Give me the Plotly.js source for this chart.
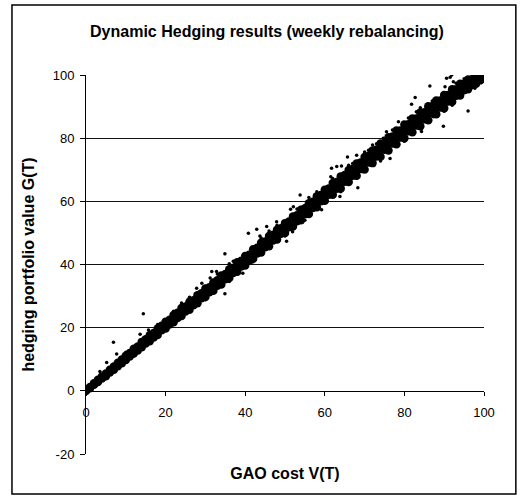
<!DOCTYPE html>
<html>
<head>
<meta charset="utf-8">
<script src="https://cdn.plot.ly/plotly-3.0.1.min.js"></script>
<style>html,body{margin:0;padding:0;background:#fff;}#chart{width:521px;height:499px;}</style>
</head>
<body>
<div id="chart"></div>
<script>
// ---- Data ----
// Dense central band (GAO cost V(T) vs hedging portfolio value G(T))
const bandCentreX = [
  0,1,2,3,4,5,6,7,8,9,
  10,11,12,13,14,15,16,17,18,19,
  20,21,22,23,24,25,26,27,28,29,
  30,31,32,33,34,35,36,37,38,39,
  40,41,42,43,44,45,46,47,48,49,
  50,51,52,53,54,55,56,57,58,59,
  60,61,62,63,64,65,66,67,68,69,
  70,71,72,73,74,75,76,77,78,79,
  80,81,82,83,84,85,86,87,88,89,
  90,91,92,93,94,95,96,97,98,99,
  100];
const bandCentreY = [
  0,1.0,2.1,3.2,4.2,5.1,6.3,7.3,8.4,9.4,
  10.4,11.5,12.5,13.4,14.6,15.7,16.6,17.6,18.7,19.9,
  20.8,21.8,22.9,23.9,24.8,25.9,27.0,27.9,29.0,30.1,
  31.0,32.0,33.1,34.1,35.0,36.1,37.2,38.1,39.2,40.3,
  41.2,42.2,43.3,44.4,45.3,46.4,47.5,48.5,49.5,50.6,
  51.6,52.7,53.7,54.6,55.7,56.8,57.8,58.9,59.9,61.0,
  62.0,63.1,64.0,65.0,66.1,67.2,68.1,69.1,70.2,71.2,
  72.2,73.3,74.2,75.2,76.3,77.3,78.2,79.3,80.3,81.2,
  82.2,83.2,84.1,85.0,86.0,87.0,87.9,88.9,89.8,90.7,
  91.6,92.6,93.5,94.4,95.3,96.2,97.0,97.8,98.5,99.2,
  99.7];
const bandUpperX = [0,2,4,6,8,10,12,14,16,18,20,22,24,26,28,30,32,34,36,38,40,42,44,46,48,50,
  52,54,56,58,60,62,64,66,68,70,72,74,76,78,80,82,84,86,88,90,92,94,96,98,100];
const bandUpperY = [0.2,2.4,4.5,6.7,8.9,11.1,13.3,15.5,17.6,19.7,21.9,24.0,26.2,28.2,30.3,32.4,34.3,36.5,38.5,40.7,
  42.7,44.8,46.9,49.0,51.0,53.1,55.2,57.3,59.4,61.6,63.7,65.8,67.9,69.9,72.0,74.0,76.1,78.3,80.3,82.4,
  84.3,86.2,88.1,90.1,91.9,93.7,95.5,97.2,98.6,99.7,100.1];
const bandLowerX = [0,2,4,6,8,10,12,14,16,18,20,22,24,26,28,30,32,34,36,38,40,42,44,46,48,50,
  52,54,56,58,60,62,64,66,68,70,72,74,76,78,80,82,84,86,88,90,92,94,96,98,100];
const bandLowerY = [0,1.9,3.9,5.8,7.8,9.8,11.8,13.8,15.7,17.7,19.7,21.7,23.7,25.7,27.7,29.7,31.7,33.7,35.7,37.7,
  39.7,41.8,43.8,45.8,47.9,50.0,52.0,54.0,56.0,58.1,60.2,62.1,64.1,66.1,68.1,70.1,72.1,74.1,76.1,78.1,
  80.0,81.9,83.8,85.7,87.6,89.5,91.5,93.5,95.5,97.2,98.8];
const bandMidX = [1,3,5,7,9,11,13,15,17,19,21,23,25,27,29,31,33,35,37,39,41,43,45,47,49,
  51,53,55,57,59,61,63,65,67,69,71,73,75,77,79,81,83,85,87,89,91,93,95,97,99];
const bandMidUpperY = [1.2,3.5,5.5,7.7,9.9,12.0,14.0,16.3,18.3,20.6,
  22.5,24.7,26.7,28.7,30.9,32.8,35.0,37.0,39.0,41.2,
  43.1,45.3,47.3,49.4,51.5,53.6,55.6,57.8,59.9,62.0,
  64.1,66.1,68.3,70.2,72.3,74.4,76.4,78.5,80.5,82.4,
  84.4,86.2,88.2,90.1,91.9,93.7,95.5,97.2,98.7,99.9];
const bandMidLowerY = [0.8,2.8,4.6,6.7,8.7,10.9,12.8,15.0,16.9,19.2,
  21.0,23.1,25.1,27.1,29.3,31.2,33.3,35.3,37.3,39.4,
  41.3,43.5,45.5,47.6,49.7,51.8,53.7,55.9,57.9,60.0,
  62.1,64.0,66.2,68.1,70.2,72.3,74.2,76.3,78.3,80.2,
  82.2,84.0,86.0,87.9,89.7,91.6,93.4,95.2,96.8,98.3];
// Scattered points away from the band
const strayX = [3.5,5.2,6.9,7.7,13.6,14.4,15.7,16.1,24,27.8,29.1,30,31.2,31.6,32.8,34.9,34.9,36,39.4,40.8,
  41.9,42.9,43.7,44,45.4,46,47.9,50,50.4,51.9,51.4,52.1,53.8,56,59.2,61.5,61.7,63,63.8,64,
  64.2,65.7,66,68,68,68.3,70,72,74.7,75.5,76.4,78.5,80,81.8,82.7,84,84.3,86.4,87.3,89.8,
  90,90.2,90.6,91.5,91.9,92.3,96,97.7,
  10,18,22,26,33,37,48,53,58,62,67,71,73,77,81,83,87,93,95,12,36,55,74,92];
const strayY = [6.1,9.0,15.4,11.7,17.9,24.4,19.3,15.1,27.8,32.5,34.1,28.8,35.7,37.8,37.8,43.4,30.7,40.2,37.2,49.9,
  40.8,51.2,49.0,48.4,52.0,50.6,53.5,49.0,47.4,50.4,57.5,58.3,62.0,61.2,57.3,67.8,70.5,71.0,61.5,63.0,
  71.2,74.0,71.4,74.6,67.3,64.3,75.6,77.8,80.0,82.0,73.6,85.2,79.0,90.7,92.9,89.6,82.1,96.5,86.8,83.8,
  88.5,96.3,99.0,99.3,100.0,97.9,88.6,95.8,
  12.2,21.0,25.2,29.6,37.0,41.0,52.4,57.6,63.0,67.2,72.0,76.2,78.2,82.6,86.4,88.4,91.8,97.4,98.8,11.0,34.6,54.0,72.8,90.4];
const xTicks = [0,20,40,60,80,100];
const yTicks = [-20,0,20,40,60,80,100];
const yTickLabels = ['-20','0','20','40','60','80','100'];
const gridTicks = [20,40,60,80];

const FONT = 'Liberation Sans, Arial, Helvetica, sans-serif';

const coreX = bandCentreX.concat(bandUpperX, bandLowerX, bandMidX, bandMidX);
const coreY = bandCentreY.concat(bandUpperY, bandLowerY, bandMidUpperY, bandMidLowerY);

const traces = [
  {type:'scatter', mode:'markers', x:[], y:[], yaxis:'y2', hoverinfo:'skip', showlegend:false},
  {type:'scatter', mode:'markers', x:coreX, y:coreY, hoverinfo:'skip',
   marker:{color:'#000', size:8.5, line:{width:0}}, showlegend:false},
  {type:'scatter', mode:'markers', x:strayX, y:strayY, hoverinfo:'skip',
   marker:{color:'#000', size:3.5, line:{width:0}}, showlegend:false}
];

const layout = {
  width:521, height:499,
  margin:{l:86, r:37, t:75, b:45},
  paper_bgcolor:'#fff', plot_bgcolor:'#fff',
  font:{family:FONT, color:'#000'},
  showlegend:false,
  title:{text:'Dynamic Hedging results (weekly rebalancing)',
         font:{family:FONT, size:16, weight:'bold', color:'#000'},
         xref:'container', x:0.5125, xanchor:'center',
         yref:'container', y:0.938, yanchor:'middle'},
  xaxis:{range:[0,100], tickvals:xTicks, anchor:'free', position:1/6,
         showline:true, linecolor:'#000', linewidth:1,
         ticks:'outside', ticklen:4, tickcolor:'#000', tickwidth:1,
         tickfont:{family:FONT, size:13, color:'#000'}, ticklabelstandoff:6,
         showgrid:false, zeroline:false, automargin:false,
         title:{text:'GAO cost V(T)', font:{family:FONT, size:16, weight:'bold', color:'#000'}, standoff:48}},
  yaxis:{range:[-20,100], tickvals:yTicks, ticktext:yTickLabels,
         showline:true, linecolor:'#000', linewidth:1,
         ticks:'outside', ticklen:5, tickcolor:'#000', tickwidth:1,
         tickfont:{family:FONT, size:13, color:'#000'}, ticklabelstandoff:3,
         showgrid:false, zeroline:false, automargin:false,
         title:{text:'hedging portfolio value G(T)', font:{family:FONT, size:16, weight:'bold', color:'#000'}, standoff:14}},
  yaxis2:{range:[-20,100], overlaying:'y', tickvals:gridTicks, showticklabels:false,
          ticks:'', showline:false, zeroline:false, showgrid:true, gridcolor:'#111', gridwidth:1},
  shapes:[{type:'rect', xref:'paper', yref:'paper', x0:-0.186, x1:1.080, y0:-0.1055, y1:1.1847,
           line:{color:'#000', width:1.5}, fillcolor:'rgba(0,0,0,0)', layer:'above'}]
};

Plotly.newPlot('chart', traces, layout, {displayModeBar:false, staticPlot:true});
</script>
</body>
</html>
